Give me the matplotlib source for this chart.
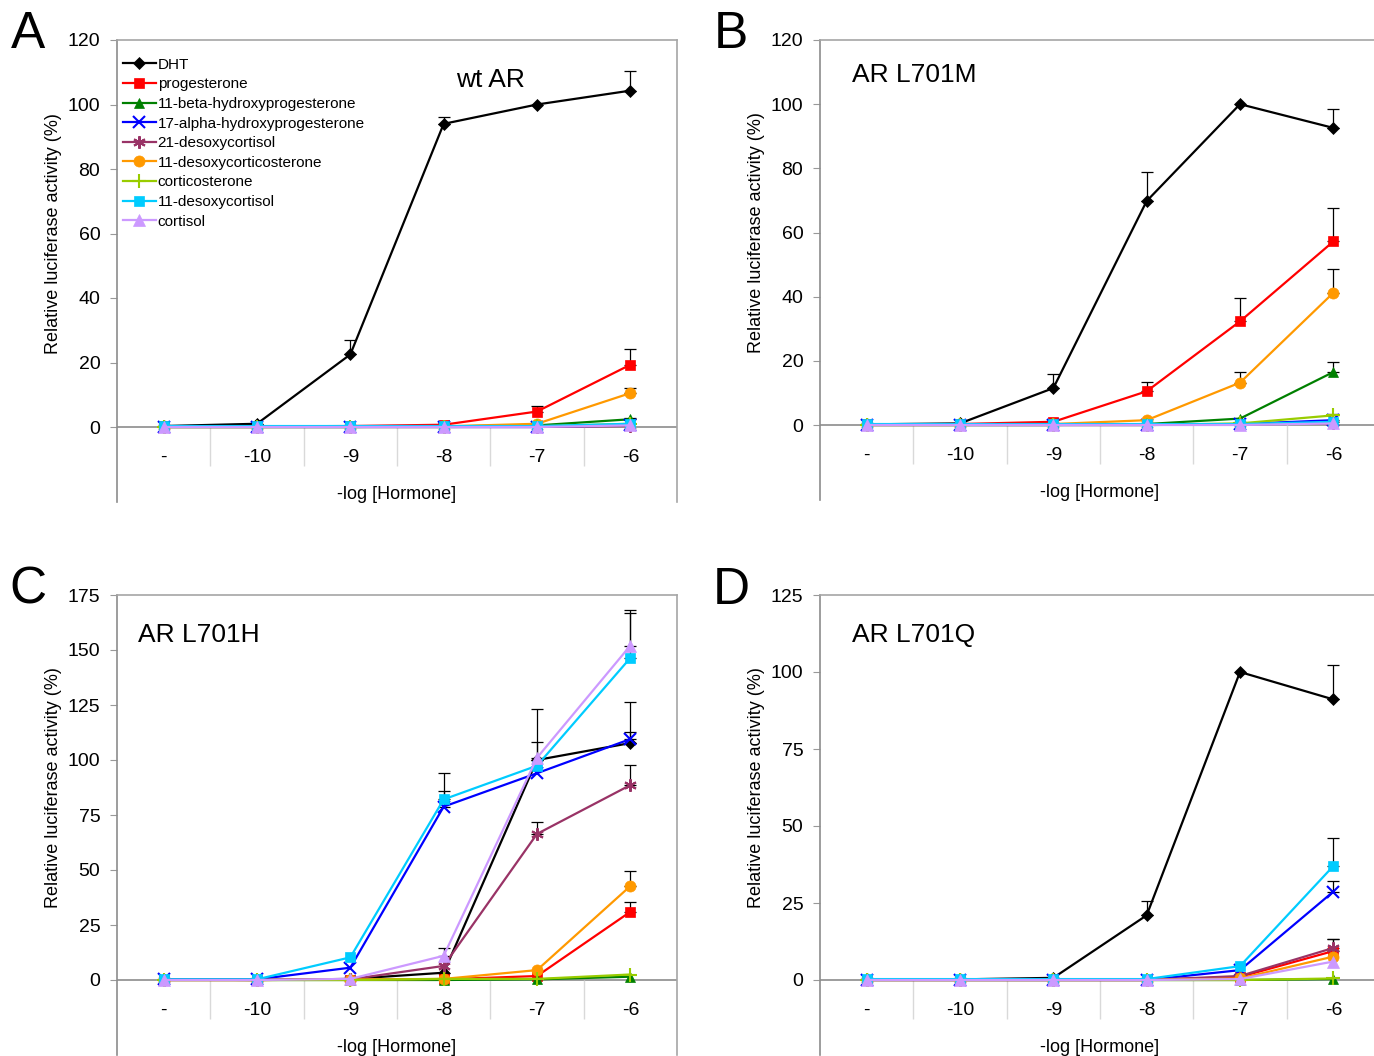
import matplotlib.pyplot as plt

plt.rcParams['font.family'] = ['Liberation Sans', 'DejaVu Sans']

categorias = ["-", "-10", "-9", "-8", "-7", "-6"]
hormonas = ["DHT", "progesterone", "11-beta-hydroxyprogesterone",
            "17-alpha-hydroxyprogesterone", "21-desoxycortisol",
            "11-desoxycorticosterone", "corticosterone",
            "11-desoxycortisol", "cortisol"]
colores = ["black", "#ff0000", "#008000", "#0000ff", "#993366",
           "#ff9900", "#99cc00", "#00ccff", "#cc99ff"]
marcadores = ["D", "s", "^", "x", (6, 2, 0), "o", "+", "s", "^"]
tamanos = [6.5, 7.5, 7.5, 9, 9, 8, 10, 7.5, 8.5]

# panel A: wt AR
valores_a = [[0.3, 1.0, 22.5, 94.0, 100.0, 104.3],
             [0.2, 0.2, 0.3, 0.7, 4.8, 19.3],
             [0.0, 0.0, 0.0, 0.2, 0.5, 2.4],
             [0.0, 0.0, 0.0, 0.0, 0.0, 0.5],
             [0.0, 0.0, 0.0, 0.0, 0.0, 0.3],
             [0.0, 0.0, 0.1, 0.2, 1.0, 10.5],
             [0.0, 0.0, 0.0, 0.0, 0.2, 1.0],
             [0.3, 0.3, 0.3, 0.3, 0.3, 1.0],
             [0.0, 0.0, 0.0, 0.0, 0.0, 0.5]]
errores_a = [[0, 0, 4.5, 2.0, 0, 6.0],
             [0, 0, 0, 0.5, 1.8, 5.0],
             [0, 0, 0, 0, 0, 0.5],
             [0, 0, 0, 0, 0, 0],
             [0, 0, 0, 0, 0, 0],
             [0, 0, 0, 0, 0, 1.6],
             [0, 0, 0, 0, 0, 0],
             [0, 0, 0, 0, 0, 0],
             [0, 0, 0, 0, 0, 0]]

# panel B: AR L701M
valores_b = [[0.2, 0.5, 11.5, 69.8, 100.0, 92.6],
             [0.2, 0.3, 1.0, 10.5, 32.3, 57.2],
             [0.0, 0.0, 0.0, 0.3, 2.0, 16.5],
             [0.0, 0.0, 0.0, 0.0, 0.3, 1.5],
             [0.0, 0.0, 0.0, 0.0, 0.2, 0.5],
             [0.0, 0.0, 0.3, 1.5, 13.2, 41.2],
             [0.0, 0.0, 0.0, 0.0, 0.5, 3.0],
             [0.3, 0.3, 0.3, 0.3, 0.3, 1.0],
             [0.0, 0.0, 0.0, 0.0, 0.0, 0.5]]
errores_b = [[0, 0, 4.5, 9.0, 0, 6.0],
             [0, 0, 0, 3.0, 7.2, 10.5],
             [0, 0, 0, 0, 0, 3.0],
             [0, 0, 0, 0, 0, 0],
             [0, 0, 0, 0, 0, 0],
             [0, 0, 0, 0, 3.4, 7.5],
             [0, 0, 0, 0, 0, 0.5],
             [0, 0, 0, 0, 0, 0.5],
             [0, 0, 0, 0, 0, 0]]

# panel C: AR L701H
valores_c = [[0.2, 0.0, 0.5, 3.3, 100.0, 107.7],
             [0.0, 0.0, 0.2, 0.3, 1.8, 31.0],
             [0.0, 0.0, 0.0, 0.0, 0.3, 1.5],
             [0.3, 0.3, 5.6, 78.8, 94.0, 109.5],
             [0.0, 0.0, 0.3, 6.4, 66.4, 88.6],
             [0.0, 0.0, 0.2, 0.5, 4.5, 42.7],
             [0.0, 0.0, 0.0, 0.5, 0.5, 2.5],
             [0.3, 0.3, 10.3, 82.1, 97.4, 146.4],
             [0.0, 0.0, 0.5, 11.0, 101.0, 152.0]]
errores_c = [[0, 0, 0, 0, 8.0, 5.0],
             [0, 0, 0, 0, 0, 4.6],
             [0, 0, 0, 0, 0, 0],
             [0, 0, 0, 7.0, 0, 17.0],
             [0, 0, 0, 0, 5.6, 9.0],
             [0, 0, 0, 0, 0, 7.0],
             [0, 0, 0, 0, 0, 0],
             [0, 0, 0, 12.0, 0, 20.5],
             [0, 0, 0, 3.4, 22.0, 16.0]]

# panel D: AR L701Q
valores_d = [[0.2, 0.2, 0.7, 21.0, 100.0, 91.1],
             [0.0, 0.0, 0.0, 0.0, 1.0, 9.4],
             [0.0, 0.0, 0.0, 0.0, 0.0, 0.3],
             [0.0, 0.0, 0.0, 0.0, 3.2, 28.7],
             [0.0, 0.0, 0.0, 0.0, 1.3, 10.4],
             [0.0, 0.0, 0.0, 0.0, 0.5, 7.6],
             [0.0, 0.0, 0.0, 0.0, 0.0, 0.5],
             [0.3, 0.3, 0.3, 0.3, 4.5, 37.0],
             [0.0, 0.0, 0.0, 0.0, 0.3, 6.0]]
errores_d = [[0, 0, 0, 4.7, 0, 11.2],
             [0, 0, 0, 0, 0, 4.0],
             [0, 0, 0, 0, 0, 0],
             [0, 0, 0, 0, 0, 3.4],
             [0, 0, 0, 0, 0, 3.0],
             [0, 0, 0, 0, 0, 0],
             [0, 0, 0, 0, 0, 0],
             [0, 0, 0, 0, 0, 9.0],
             [0, 0, 0, 0, 0, 0]]

paneles = [("A", "wt AR", valores_a, errores_a, 120, 20),
           ("B", "AR L701M", valores_b, errores_b, 120, 20),
           ("C", "AR L701H", valores_c, errores_c, 175, 25),
           ("D", "AR L701Q", valores_d, errores_d, 125, 25)]

# posiciones en pixeles: izquierda, arriba (tope), cero, titulo (x, y)
W, H = 1374, 1056
cajas = [(117, 40, 427, 490, 80), (820, 40, 425, 852, 75),
         (117, 595, 980, 138, 635), (820, 595, 980, 852, 635)]
ancho_px = 560
franja_px = 75
separador_px = 39

fig = plt.figure(figsize=(W / 100, H / 100), dpi=100)

for (letra, titulo, valores, errores, ymax, paso), (x0, y0, ycero, xt, yt) in zip(paneles, cajas):
    alto_plot = ycero - y0
    alto_total = alto_plot + franja_px
    ax = fig.add_axes([x0 / W, 1 - (ycero + franja_px) / H, ancho_px / W, alto_total / H])
    ymin = -ymax * franja_px / alto_plot
    x = list(range(len(categorias)))
    for i, nombre in enumerate(hormonas):
        ax.plot(x, valores[i], color=colores[i], marker=marcadores[i],
                markersize=tamanos[i], lw=1.6, label=nombre, zorder=3 + i * 0.01,
                markeredgewidth=1.5 if marcadores[i] in ("x", "+", (6, 2, 0)) else 0.5)
        xs = [xi for xi, e in zip(x, errores[i]) if e > 0]
        ys = [v for v, e in zip(valores[i], errores[i]) if e > 0]
        es = [e for e in errores[i] if e > 0]
        if xs:
            ax.errorbar(xs, ys, yerr=[[0] * len(es), es], fmt="none", ecolor="black",
                        elinewidth=0.9, capsize=4, capthick=0.9, zorder=2.5)
    ax.set_xlim(-0.5, len(categorias) - 0.5)
    ax.set_ylim(ymin, ymax)
    ax.set_yticks(range(0, ymax + 1, paso))
    ax.tick_params(axis="y", labelsize=14, length=5, color="#999999", pad=7)
    ax.set_xticks(x)
    ax.set_xticklabels(categorias)
    ax.tick_params(axis="x", labelsize=14, length=0, pad=-38)
    # rejilla de categorias y eje cero
    ax.axhline(0, color="#8c8c8c", lw=1.2, zorder=2)
    ax.vlines([xi + 0.5 for xi in x[:-1]], -ymax * separador_px / alto_plot, 0,
              color="#d9d9d9", lw=1)
    ax.spines["bottom"].set_visible(False)
    for lado in ["top", "right"]:
        ax.spines[lado].set_color("#a6a6a6")
        ax.spines[lado].set_linewidth(1.2)
    ax.spines["left"].set_color("#8c8c8c")
    ax.spines["left"].set_linewidth(1.2)
    ax.spines["top"].set_bounds(ax.get_xlim())
    ax.set_ylabel("Relative luciferase activity (%)", fontsize=13)
    ax.yaxis.set_label_coords(-0.098, 1 - (alto_plot / 2) / alto_total)
    ax.set_xlabel("-log [Hormone]", fontsize=13)
    ax.xaxis.set_label_coords(0.5, -0.002)
    ax.xaxis.label.set_va("bottom")
    # titulo
    if letra == "A":
        ax.text((xt - x0) / ancho_px, 1 - (yt - y0) / alto_total, titulo,
                transform=ax.transAxes, fontsize=19, ha="center", va="center")
        ax.legend(loc="upper left", bbox_to_anchor=(0.01, 0.962), frameon=False,
                  fontsize=11, labelspacing=0.37, handlelength=2.2, handletextpad=0.1,
                  borderaxespad=0, borderpad=0)
    else:
        ax.text((xt - x0) / ancho_px, 1 - (yt - y0) / alto_total, titulo,
                transform=ax.transAxes, fontsize=19, ha="left", va="center")
    fig.text((x0 - 89) / W, 1 - (y0 - 5) / H, letra, fontsize=37, ha="center", va="center")

fig.savefig("out.png", dpi=100)
